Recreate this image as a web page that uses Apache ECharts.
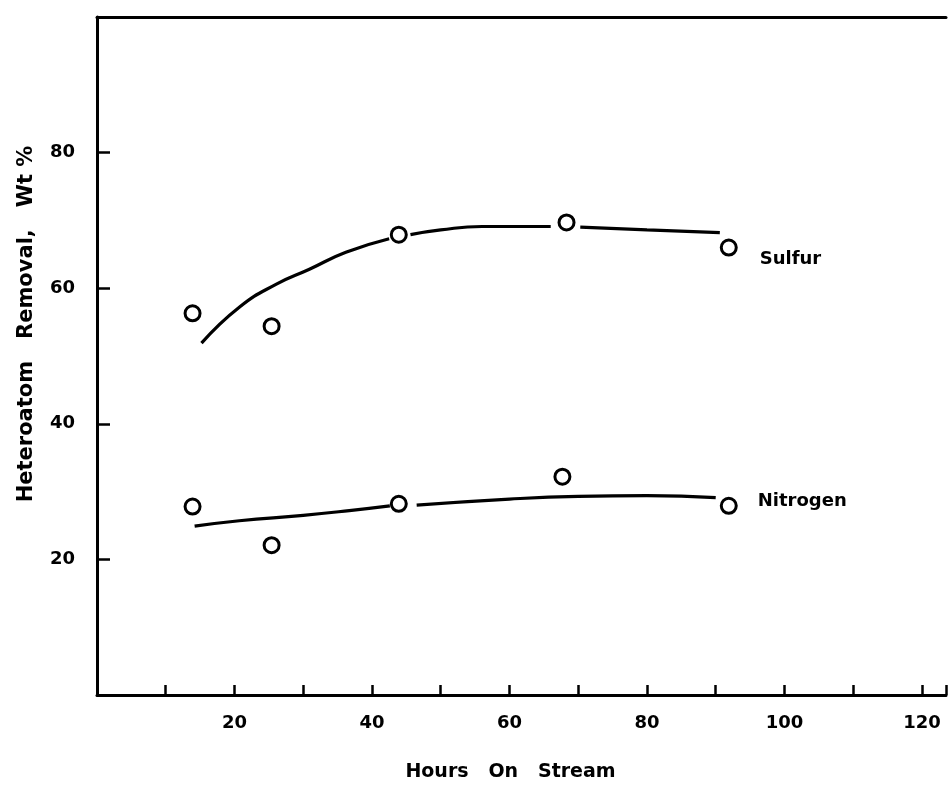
<!DOCTYPE html>
<html>
<head>
<meta charset="utf-8">
<script src="https://cdn.jsdelivr.net/npm/echarts@6/dist/echarts.min.js"></script>
<style>
  html, body { margin: 0; padding: 0; background: #ffffff; }
  #chart { width: 949px; height: 787px; }
</style>
</head>
<body>
<div id="chart"></div>
<script>
// 测量点
const sulfurHours = [13.9, 25.4, 43.9, 68.3, 91.9];
const sulfurValues = [56.3, 54.4, 67.9, 69.7, 66.0];
const nitrogenHours = [13.9, 25.4, 43.9, 67.7, 91.9];
const nitrogenValues = [27.8, 22.1, 28.2, 32.2, 27.9];

// 手绘趋势线（分段，圆点处断开）
const sulfurFitA = [[15.2, 51.9], [20.7, 57.2], [26.1, 60.6], [30.9, 62.8], [36.2, 65.3], [42.5, 67.3]];
const sulfurFitB = [[45.6, 67.9], [50, 68.6], [56, 69.1], [66, 69.1]];
const sulfurFitC = [[70.3, 69.0], [80, 68.6], [90.6, 68.2]];
const nitrogenFitA = [[14.2, 24.9], [20.7, 25.7], [30, 26.5], [36.7, 27.2], [42.6, 27.9]];
const nitrogenFitB = [[46.5, 28.0], [60, 28.9], [70, 29.3], [80, 29.4], [90, 29.1]];

const xTickLabels = [20, 40, 60, 80, 100, 120];
const yTickLabels = [20, 40, 60, 80];

const fontFamily = '"DejaVu Sans", "Liberation Sans", Arial, sans-serif';

const chart = echarts.init(document.getElementById('chart'));

function fitLine(points) {
    return {
        type: 'line',
        data: points,
        smooth: true,
        showSymbol: false,
        silent: true,
        lineStyle: { color: '#000', width: 3.2 },
        z: 2
    };
}

function pointSeries(name, hours, values, labelOpts) {
    const last = hours.length - 1;
    return {
        name: name,
        type: 'scatter',
        data: hours.map((h, i) => [h, values[i]]),
        symbol: 'circle',
        symbolSize: 15,
        itemStyle: { color: '#fff', borderColor: '#000', borderWidth: 3, opacity: 1 },
        label: Object.assign({
            show: true,
            position: 'right',
            formatter: p => p.dataIndex === last ? name : '',
            color: '#000',
            fontSize: 18,
            fontWeight: 'bold',
            fontFamily: fontFamily
        }, labelOpts),
        z: 3
    };
}

const option = {
    backgroundColor: '#ffffff',
    animation: false,
    grid: { left: 97, right: 0, top: 17, bottom: 90 },
    xAxis: [{
        type: 'value',
        min: 0,
        max: 123.5,
        interval: 10,
        name: 'Hours   On   Stream',
        nameLocation: 'middle',
        nameGap: 68,
        nameTextStyle: {
            color: '#000', fontSize: 19, fontWeight: 'bold', fontFamily: fontFamily,
            padding: [0, 22, 0, 0]
        },
        axisLine: { lineStyle: { color: '#000', width: 3 } },
        axisTick: { inside: true, length: 10, lineStyle: { color: '#000', width: 2.5 } },
        axisLabel: {
            color: '#000',
            fontSize: 18,
            fontWeight: 'bold',
            fontFamily: fontFamily,
            margin: 19,
            formatter: v => xTickLabels.indexOf(v) >= 0 ? String(v) : ''
        },
        splitLine: { show: false }
    }, {
        type: 'value',
        position: 'top',
        min: 0,
        max: 123.5,
        axisLine: { lineStyle: { color: '#000', width: 3 } },
        axisTick: { show: false },
        axisLabel: { show: false },
        splitLine: { show: false }
    }],
    yAxis: {
        type: 'value',
        min: 0,
        max: 100,
        interval: 20,
        name: 'Heteroatom   Removal,   Wt %',
        nameLocation: 'middle',
        nameGap: 60,
        nameTextStyle: {
            color: '#000', fontSize: 21, fontWeight: 'bold', fontFamily: fontFamily,
            padding: [0, 0, 0, 64]
        },
        axisLine: { show: true, lineStyle: { color: '#000', width: 3 } },
        axisTick: { inside: true, length: 13, lineStyle: { color: '#000', width: 2.5 } },
        axisLabel: {
            color: '#000',
            fontSize: 18,
            fontWeight: 'bold',
            fontFamily: fontFamily,
            margin: 22,
            formatter: v => yTickLabels.indexOf(v) >= 0 ? String(v) : ''
        },
        splitLine: { show: false }
    },
    series: [
        fitLine(sulfurFitA),
        fitLine(sulfurFitB),
        fitLine(sulfurFitC),
        fitLine(nitrogenFitA),
        fitLine(nitrogenFitB),
        pointSeries('Sulfur', sulfurHours, sulfurValues, { distance: 22, offset: [0, 12] }),
        pointSeries('Nitrogen', nitrogenHours, nitrogenValues, { distance: 20, offset: [0, -5] })
    ]
};

chart.setOption(option);
window.addEventListener('resize', function () {
    chart.resize();
});
</script>
</body>
</html>
